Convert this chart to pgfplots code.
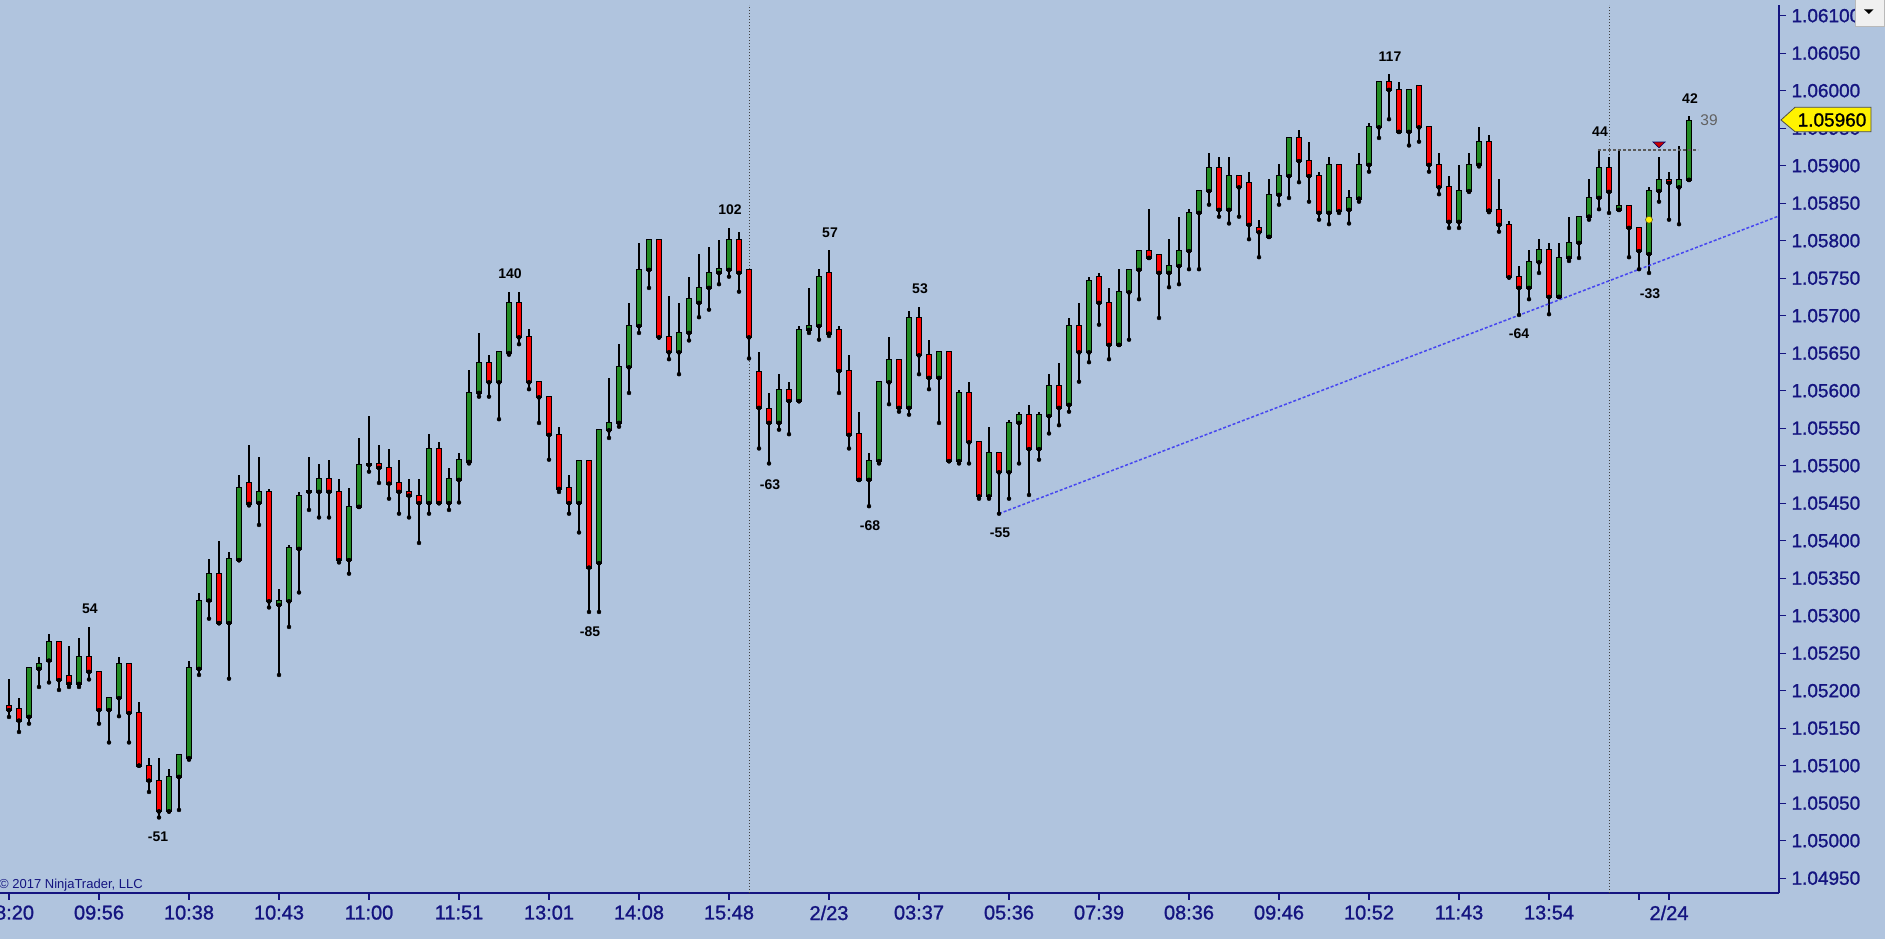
\documentclass[border=0pt]{standalone}
\usepackage{pgfplots}
\pgfplotsset{compat=1.18}
\usepackage{pgfplotstable}
\usepackage{fontspec}
\setmainfont{Liberation Sans}
\newfontfamily\tickfont[FakeBold=1.2]{Liberation Sans}
\pgfdeclarelayer{background}
\pgfsetlayers{background,main}
\definecolor{bg}{RGB}{176,196,222}
\definecolor{cgreen}{RGB}{34,139,34}
\definecolor{cred}{RGB}{255,0,0}
\definecolor{navy}{RGB}{20,20,128}
\definecolor{trend}{RGB}{70,70,240}
\newcommand\fs[1]{\fontsize{#1}{#1}\selectfont}
\tikzset{lbl/.style={font=\fs{14}\bfseries, text=black, inner sep=0pt}}
\pgfplotstableread{
i O H L C
2 1.05165 1.05230 1.05156 1.05230
3 1.05229 1.05245 1.05205 1.05235
4 1.05240 1.05275 1.05211 1.05265
7 1.05209 1.05270 1.05205 1.05245
10 1.05174 1.05190 1.05131 1.05190
11 1.05190 1.05245 1.05166 1.05235
16 1.05039 1.05095 1.05039 1.05085
17 1.05085 1.05114 1.05041 1.05114
18 1.05110 1.05240 1.05108 1.05230
19 1.05229 1.05330 1.05221 1.05320
20 1.05320 1.05375 1.05296 1.05355
22 1.05290 1.05385 1.05216 1.05375
23 1.05374 1.05487 1.05374 1.05470
25 1.05450 1.05512 1.05421 1.05465
27 1.05314 1.05335 1.05221 1.05320
28 1.05319 1.05394 1.05285 1.05390
29 1.05389 1.05465 1.05331 1.05460
30 1.05465 1.05512 1.05441 1.05466
31 1.05465 1.05502 1.05431 1.05482
34 1.05374 1.05470 1.05356 1.05445
35 1.05445 1.05537 1.05445 1.05501
36 1.05501 1.05566 1.05492 1.05502
42 1.05450 1.05542 1.05436 1.05522
44 1.05450 1.05497 1.05441 1.05482
45 1.05481 1.05517 1.05451 1.05507
46 1.05505 1.05627 1.05503 1.05597
47 1.05597 1.05677 1.05592 1.05637
49 1.05611 1.05651 1.05562 1.05651
50 1.05650 1.05732 1.05648 1.05717
57 1.05450 1.05506 1.05411 1.05506
59 1.05370 1.05547 1.05305 1.05547
60 1.05547 1.05617 1.05537 1.05557
61 1.05557 1.05662 1.05552 1.05631
62 1.05631 1.05717 1.05597 1.05686
63 1.05686 1.05797 1.05677 1.05761
64 1.05761 1.05801 1.05737 1.05801
67 1.05651 1.05717 1.05622 1.05677
68 1.05677 1.05751 1.05667 1.05722
69 1.05717 1.05782 1.05698 1.05737
70 1.05737 1.05791 1.05708 1.05757
71 1.05757 1.05801 1.05742 1.05762
72 1.05761 1.05817 1.05752 1.05801
77 1.05557 1.05622 1.05548 1.05601
79 1.05586 1.05686 1.05586 1.05681
80 1.05681 1.05737 1.05677 1.05686
81 1.05686 1.05762 1.05668 1.05751
86 1.05481 1.05517 1.05446 1.05506
87 1.05506 1.05612 1.05503 1.05611
88 1.05611 1.05672 1.05582 1.05641
90 1.05577 1.05706 1.05568 1.05697
93 1.05617 1.05651 1.05557 1.05651
95 1.05506 1.05601 1.05503 1.05597
98 1.05459 1.05551 1.05456 1.05517
100 1.05491 1.05561 1.05456 1.05557
101 1.05557 1.05572 1.05503 1.05567
103 1.05522 1.05571 1.05508 1.05567
104 1.05566 1.05622 1.05543 1.05606
106 1.05581 1.05697 1.05572 1.05686
108 1.05651 1.05751 1.05638 1.05746
111 1.05661 1.05762 1.05661 1.05731
112 1.05731 1.05762 1.05668 1.05761
113 1.05761 1.05786 1.05722 1.05786
116 1.05757 1.05802 1.05738 1.05766
117 1.05766 1.05831 1.05742 1.05786
118 1.05786 1.05842 1.05762 1.05837
119 1.05837 1.05866 1.05762 1.05866
120 1.05866 1.05917 1.05848 1.05897
122 1.05841 1.05911 1.05823 1.05886
126 1.05805 1.05882 1.05805 1.05861
127 1.05861 1.05902 1.05848 1.05886
128 1.05886 1.05937 1.05857 1.05937
132 1.05837 1.05911 1.05822 1.05901
134 1.05841 1.05867 1.05823 1.05857
135 1.05856 1.05917 1.05852 1.05901
136 1.05901 1.05957 1.05892 1.05951
137 1.05951 1.06012 1.05937 1.06012
140 1.05945 1.06001 1.05927 1.06001
145 1.05825 1.05901 1.05817 1.05866
146 1.05866 1.05917 1.05865 1.05901
147 1.05901 1.05951 1.05899 1.05931
152 1.05737 1.05787 1.05722 1.05771
153 1.05771 1.05802 1.05757 1.05787
155 1.05725 1.05797 1.05725 1.05777
156 1.05777 1.05832 1.05773 1.05797
157 1.05797 1.05832 1.05777 1.05832
158 1.05832 1.05882 1.05828 1.05857
159 1.05857 1.05922 1.05842 1.05897
161 1.05841 1.05922 1.05841 1.05846
164 1.05782 1.05872 1.05757 1.05866
165 1.05866 1.05912 1.05852 1.05881
167 1.05871 1.05926 1.05822 1.05881
168 1.05881 1.05966 1.05881 1.05960
}\greentab
\pgfplotstableread{
i O H L C
0 1.05180 1.05215 1.05165 1.05174
1 1.05175 1.05190 1.05145 1.05160
5 1.05265 1.05265 1.05201 1.05214
6 1.05220 1.05260 1.05205 1.05209
8 1.05245 1.05285 1.05215 1.05225
9 1.05225 1.05225 1.05156 1.05174
12 1.05235 1.05235 1.05131 1.05170
13 1.05170 1.05185 1.05100 1.05100
14 1.05100 1.05110 1.05065 1.05080
15 1.05080 1.05110 1.05031 1.05039
21 1.05355 1.05400 1.05290 1.05290
24 1.05477 1.05527 1.05447 1.05449
26 1.05465 1.05469 1.05311 1.05319
32 1.05482 1.05507 1.05431 1.05465
33 1.05465 1.05482 1.05371 1.05374
37 1.05502 1.05527 1.05477 1.05497
38 1.05497 1.05522 1.05456 1.05476
39 1.05477 1.05507 1.05436 1.05465
40 1.05465 1.05482 1.05431 1.05460
41 1.05460 1.05482 1.05397 1.05450
43 1.05522 1.05532 1.05450 1.05450
48 1.05637 1.05647 1.05592 1.05611
51 1.05717 1.05732 1.05662 1.05671
52 1.05671 1.05682 1.05602 1.05611
53 1.05611 1.05612 1.05557 1.05591
54 1.05591 1.05592 1.05508 1.05541
55 1.05541 1.05552 1.05465 1.05469
56 1.05470 1.05487 1.05436 1.05450
58 1.05506 1.05506 1.05305 1.05364
65 1.05801 1.05801 1.05671 1.05671
66 1.05671 1.05726 1.05642 1.05651
73 1.05801 1.05811 1.05732 1.05757
74 1.05761 1.05761 1.05643 1.05671
75 1.05625 1.05651 1.05523 1.05577
76 1.05576 1.05597 1.05503 1.05557
78 1.05601 1.05612 1.05542 1.05586
82 1.05757 1.05787 1.05673 1.05676
83 1.05681 1.05686 1.05597 1.05626
84 1.05626 1.05647 1.05523 1.05541
85 1.05542 1.05572 1.05481 1.05481
89 1.05641 1.05641 1.05572 1.05577
91 1.05697 1.05711 1.05622 1.05647
92 1.05647 1.05667 1.05602 1.05617
94 1.05651 1.05651 1.05506 1.05506
96 1.05597 1.05611 1.05503 1.05531
97 1.05531 1.05531 1.05456 1.05459
99 1.05517 1.05517 1.05436 1.05491
102 1.05567 1.05581 1.05461 1.05522
105 1.05606 1.05637 1.05554 1.05577
107 1.05686 1.05717 1.05612 1.05651
109 1.05751 1.05757 1.05688 1.05717
110 1.05717 1.05737 1.05642 1.05661
114 1.05786 1.05842 1.05777 1.05777
115 1.05781 1.05781 1.05697 1.05757
121 1.05897 1.05911 1.05832 1.05841
123 1.05886 1.05886 1.05832 1.05871
124 1.05877 1.05891 1.05802 1.05821
125 1.05817 1.05827 1.05778 1.05811
129 1.05937 1.05947 1.05878 1.05906
130 1.05906 1.05931 1.05852 1.05886
131 1.05886 1.05891 1.05828 1.05837
133 1.05901 1.05901 1.05837 1.05839
138 1.06011 1.06022 1.05962 1.06001
139 1.06001 1.06011 1.05945 1.05945
141 1.06006 1.06006 1.05932 1.05951
142 1.05951 1.05951 1.05892 1.05901
143 1.05901 1.05917 1.05862 1.05871
144 1.05871 1.05886 1.05817 1.05825
148 1.05931 1.05941 1.05838 1.05840
149 1.05841 1.05882 1.05812 1.05821
150 1.05821 1.05826 1.05751 1.05751
151 1.05751 1.05766 1.05701 1.05737
154 1.05787 1.05797 1.05702 1.05725
160 1.05897 1.05911 1.05837 1.05865
162 1.05846 1.05846 1.05778 1.05817
163 1.05817 1.05817 1.05762 1.05786
166 1.05881 1.05891 1.05828 1.05877
}\redtab
\begin{document}
\begin{tikzpicture}
\begin{axis}[
  name=ax,
  width=1779pt, height=888pt, scale only axis,
  xmin=-0.9, xmax=177, ymin=1.0493027, ymax=1.0611427,
  axis x line=bottom, axis y line=right,
  axis line style={draw=navy, line width=1.3pt, -},
  every outer x axis line/.append style={-},
  every outer y axis line/.append style={-},
  tick style={draw=navy, line width=1.2pt},
  tick align=outside, major tick length=7pt,
  xtick={0,9,18,27,36,45,54,63,72,82,91,100,109,118,127,136,145,154,163,166},
  xticklabels={08:20,09:56,10:38,10:43,11:00,11:51,13:01,14:08,15:48,2/23,03:37,05:36,07:39,08:36,09:46,10:52,11:43,13:54,,2/24},
  ytick={1.0495,1.0500,1.0505,1.0510,1.0515,1.0520,1.0525,1.0530,1.0535,1.0540,1.0545,1.0550,1.0555,1.0560,1.0565,1.0570,1.0575,1.0580,1.0585,1.0590,1.0595,1.0600,1.0605,1.0610},
  yticklabels={1.04950,1.05000,1.05050,1.05100,1.05150,1.05200,1.05250,1.05300,1.05350,1.05400,1.05450,1.05500,1.05550,1.05600,1.05650,1.05700,1.05750,1.05800,1.05850,1.05900,1.05950,1.06000,1.06050,1.06100},
  xticklabel style={font=\tickfont\fs{20}, text=navy, yshift=-2pt},
  yticklabel style={font=\tickfont\fs{19}, text=navy, anchor=west, xshift=2pt},
  clip=false,
]
% session separators
\addplot[draw=black!75, line width=1pt, dash pattern=on 1pt off 2pt, forget plot] coordinates {(74,1.0493027) (74,1.0611427)};
\addplot[draw=black!75, line width=1pt, dash pattern=on 1pt off 2pt, forget plot] coordinates {(160,1.0493027) (160,1.0611427)};
% wicks
\addplot[only marks, mark=none, forget plot, error bars/.cd, y dir=plus, y explicit, error mark=none,
  error bar style={draw=black, line width=2pt}]
  table[x=i, y=L, y error plus expr=\thisrow{H}-\thisrow{L}] {\greentab};
\addplot[only marks, mark=none, forget plot, error bars/.cd, y dir=plus, y explicit, error mark=none,
  error bar style={draw=black, line width=2pt}]
  table[x=i, y=L, y error plus expr=\thisrow{H}-\thisrow{L}] {\redtab};
% body outlines
\addplot[only marks, mark=none, forget plot, error bars/.cd, y dir=plus, y explicit, error mark=none,
  error bar style={draw=black, line width=6.5pt, shorten <=-1pt, shorten >=-1pt}]
  table[x=i, y=O, y error plus expr=\thisrow{C}-\thisrow{O}] {\greentab};
\addplot[only marks, mark=none, forget plot, error bars/.cd, y dir=plus, y explicit, error mark=none,
  error bar style={draw=black, line width=6.5pt, shorten <=-1pt, shorten >=-1pt}]
  table[x=i, y=C, y error plus expr=\thisrow{O}-\thisrow{C}] {\redtab};
% body fills
\addplot[only marks, mark=none, forget plot, error bars/.cd, y dir=plus, y explicit, error mark=none,
  error bar style={draw=cgreen, line width=4.5pt}]
  table[x=i, y=O, y error plus expr=\thisrow{C}-\thisrow{O}] {\greentab};
\addplot[only marks, mark=none, forget plot, error bars/.cd, y dir=plus, y explicit, error mark=none,
  error bar style={draw=cred, line width=4.5pt}]
  table[x=i, y=C, y error plus expr=\thisrow{O}-\thisrow{C}] {\redtab};
% trend line
\addplot[draw=trend, line width=1.5pt, dash pattern=on 3pt off 2pt, forget plot] coordinates {(99,1.05436) (177,1.05833)};
% swing-high dashed line
\addplot[draw=black!65, line width=1.2pt, dash pattern=on 3pt off 2pt, forget plot] coordinates {(158.9,1.05921) (168.9,1.05921)};
% marker triangle and dot
\addplot[only marks, mark=triangle*, mark size=7pt, forget plot,
  mark options={rotate=180, yscale=0.55, fill=red!80!black, draw=blue!40!black, line width=0.6pt}]
  coordinates {(165,1.05929)};
\addplot[only marks, mark=*, mark size=3.5pt, forget plot,
  mark options={fill=yellow, draw=olive!60!black, line width=0.6pt}]
  coordinates {(164,1.05828)};
% swing labels
\node[lbl] at (axis cs:8.1,1.05309) {54};
\node[lbl] at (axis cs:14.9,1.05005) {-51};
\node[lbl] at (axis cs:50.1,1.05756) {140};
\node[lbl] at (axis cs:58.1,1.05279) {-85};
\node[lbl] at (axis cs:72.1,1.05841) {102};
\node[lbl] at (axis cs:76.1,1.05475) {-63};
\node[lbl] at (axis cs:82.1,1.05811) {57};
\node[lbl] at (axis cs:86.1,1.05420) {-68};
\node[lbl] at (axis cs:91.1,1.05736) {53};
\node[lbl] at (axis cs:99.1,1.05410) {-55};
\node[lbl] at (axis cs:138.1,1.06045) {117};
\node[lbl] at (axis cs:151,1.05676) {-64};
\node[lbl] at (axis cs:159.1,1.05945) {44};
\node[lbl] at (axis cs:164.1,1.05730) {-33};
\node[lbl] at (axis cs:168.1,1.05990) {42};
\node[font=\fs{15.5}, text=black!62, inner sep=0pt] at (axis cs:170,1.05961) {39};
\coordinate (BL) at (rel axis cs:0,0);
\end{axis}
\coordinate (IMG) at ([yshift=-46pt]BL);
\begin{pgfonlayer}{background}
\fill[bg] (IMG) rectangle ([xshift=1885pt,yshift=939pt]IMG);
\end{pgfonlayer}
\pgfresetboundingbox
\path[use as bounding box] (IMG) rectangle ([xshift=1885pt,yshift=939pt]IMG);
\begin{scope}[shift={(IMG)}, x=1pt, y=1pt]
% copyright
\node[anchor=base west, font=\fs{13}, text=navy, inner sep=0pt] at (-1,50) {\textcopyright{} 2017 NinjaTrader, LLC};
% price tag
\filldraw[fill=yellow, draw=black!70, line width=0.8pt] (1781,819) -- (1795,831.7) -- (1871,831.7) -- (1871,807.3) -- (1795,807.3) -- cycle;
\node[font=\tickfont\fs{19}, text=black, inner sep=0pt] at (1832,819) {1.05960};
% dropdown button
\filldraw[fill=gray!12, draw=gray!55, line width=0.8pt] (1855,912.5) rectangle (1884.5,939.5);
\fill[black] (1864,929.7) -- (1873.5,929.7) -- (1868.75,925) -- cycle;
\end{scope}
\end{tikzpicture}
\end{document}
